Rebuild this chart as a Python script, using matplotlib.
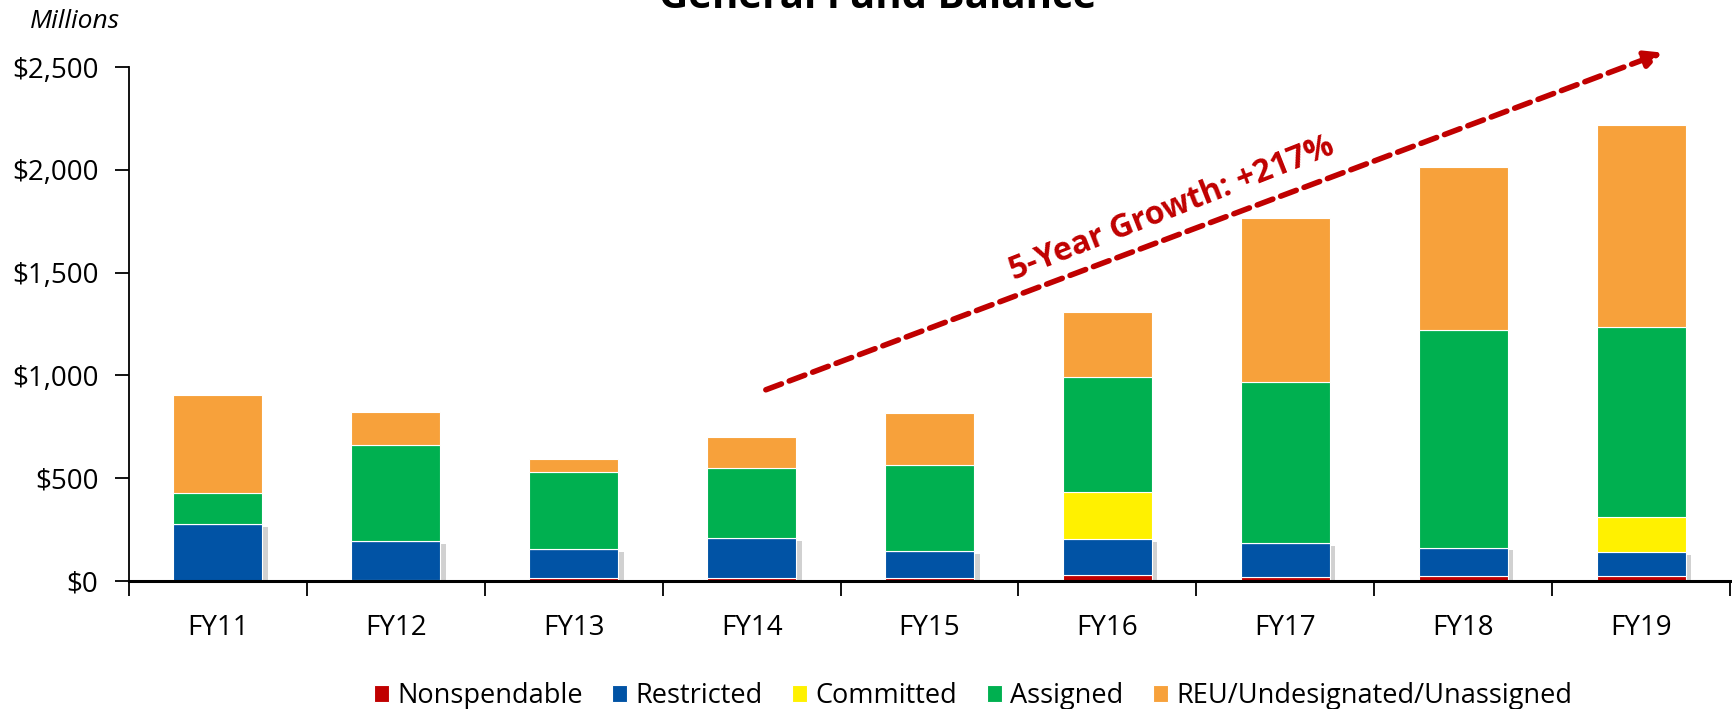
import matplotlib
matplotlib.use("Agg")
import matplotlib.pyplot as plt
import matplotlib.patheffects as pe
from matplotlib.ticker import FuncFormatter, FixedLocator
import numpy as np

# valeurs (millions de $)
years = ["FY11", "FY12", "FY13", "FY14", "FY15", "FY16", "FY17", "FY18", "FY19"]
nonspendable = [2, 3, 13, 13, 15, 30, 20, 25, 25]
restricted = [273, 191, 143, 197, 130, 175, 163, 137, 115]
committed = [0, 0, 0, 0, 0, 226, 0, 0, 173]
assigned = [151, 469, 372, 340, 421, 560, 787, 1061, 921]
unassigned = [479, 161, 65, 150, 253, 318, 797, 792, 986]

series_names = ["Nonspendable", "Restricted", "Committed", "Assigned",
                "REU/Undesignated/Unassigned"]
colors = ["#C00000", "#0153A5", "#FFF100", "#00B050", "#F7A13B"]

growth_label = "5-Year Growth: +217%"
arrow_start = (3.08, 930)
arrow_end = (8.12, 2570)

plt.rcParams["font.family"] = ["Open Sans", "DejaVu Sans"]

fig = plt.figure(figsize=(17.32, 7.09), dpi=100)
ax = fig.add_axes([129 / 1732, 1 - 581 / 709, (1730 - 129) / 1732, (581 - 67) / 709])

x = np.arange(len(years))
width = 0.5
stack = [nonspendable, restricted, committed, assigned, unassigned]

# ombre portée derrière les barres "Restricted"
shadow_h = np.array(nonspendable) + np.array(restricted)
ax.bar(x, shadow_h, width, color="none", zorder=1,
       path_effects=[pe.SimplePatchShadow(offset=(4, -2), shadow_rgbFace="#9a9a9a", alpha=0.45)])

bottom = np.zeros(len(years))
for vals, name, col in zip(stack, series_names, colors):
    ax.bar(x, vals, width, bottom=bottom, color=col, edgecolor="white",
           linewidth=0.8, label=name, zorder=2)
    bottom += np.array(vals)

ax.set_xlim(-0.5, len(years) - 0.5)
ax.set_ylim(0, 2500)
ax.set_yticks(np.arange(0, 2501, 500))
ax.yaxis.set_major_formatter(FuncFormatter(lambda v, p: "${:,.0f}".format(v)))

ax.set_xticks(x)
ax.set_xticklabels(years)
ax.xaxis.set_minor_locator(FixedLocator(np.arange(-0.5, len(years), 1.0)))
ax.tick_params(axis="x", which="major", length=0, pad=24, labelsize=20)
ax.tick_params(axis="x", which="minor", length=11, width=1.3, direction="out")
ax.tick_params(axis="y", length=10, width=1.3, labelsize=20, pad=12)

for s in ["top", "right"]:
    ax.spines[s].set_visible(False)
ax.spines["left"].set_linewidth(1.3)
ax.spines["bottom"].set_linewidth(2.2)
ax.spines["bottom"].set_zorder(5)

# flèche de croissance
ax.annotate("", xy=arrow_end, xytext=arrow_start, annotation_clip=False,
            arrowprops=dict(arrowstyle="-|>,head_length=1.0,head_width=0.5",
                            color="#C00000", lw=4, linestyle=(0, (3, 1.5)),
                            shrinkA=0, shrinkB=0), zorder=6)
ax.text(5.36, 1810, growth_label, color="#C00000", fontsize=23, fontweight="bold",
        rotation=21.5, ha="center", va="center", zorder=6)

fig.text(30 / 1732, 1 - 22 / 709, "Millions", fontsize=19, style="italic", va="center")
fig.text(878 / 1732, 1 - 8 / 709, "General Fund Balance", fontsize=29,
         fontweight="bold", ha="center", va="baseline")

ax.legend(loc="center", bbox_to_anchor=(973 / 1732, 13 / 709),
          bbox_transform=fig.transFigure, ncol=5, frameon=False, fontsize=19.5,
          handlelength=0.55, handleheight=0.55, handletextpad=0.3, columnspacing=1.1)

fig.savefig("out.png", dpi=100)
